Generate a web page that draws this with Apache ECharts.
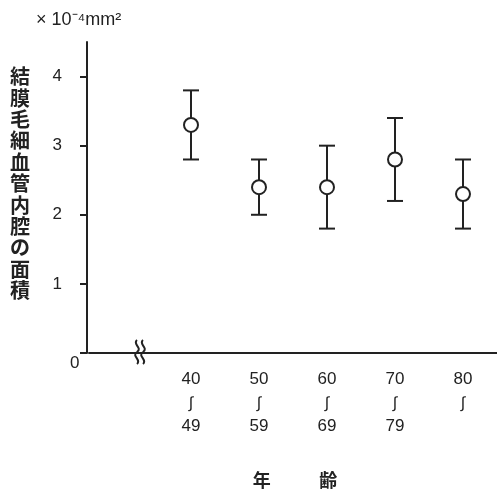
<!DOCTYPE html>
<html><head><meta charset="utf-8">
<script src="https://cdn.jsdelivr.net/npm/echarts@6/dist/echarts.min.js"></script>
<style>html,body{margin:0;padding:0;background:#fff}#c{width:497px;height:496px}</style>
</head><body><div id="c"></div>
<script>
const categories = ['', '40\n∫\n49', '50\n∫\n59', '60\n∫\n69', '70\n∫\n79', '80\n∫\n'];
const means = [3.3, 2.4, 2.4, 2.8, 2.3];
const lows  = [2.8, 2.0, 1.8, 2.2, 1.8];
const highs = [3.8, 2.8, 3.0, 3.4, 2.8];
const yTicks = [0, 1, 2, 3, 4];
const yLabels = [1, 2, 3, 4];
const yTitle = '結膜毛細血管内腔の面積';
const xTitle = '年　　\u2002\u2009齢';

const FONT = '"Liberation Sans", "Noto Sans CJK JP", sans-serif';
const INK = '#222';
const chart = echarts.init(document.getElementById('c'));

const pointData = means.map((v, i) => [categories[i + 1], v]);
const errData = lows.map((l, i) => [i + 1, l, highs[i]]);

function wave(x0, y0) {
  const st = { stroke: INK, lineWidth: 2, fill: null };
  return [
    { type: 'bezierCurve', shape: { x1: x0, y1: y0, cpx1: x0 - 5, cpy1: y0 + 4, cpx2: x0 + 6, cpy2: y0 + 8, x2: x0, y2: y0 + 12 }, style: st, z: 10 },
    { type: 'bezierCurve', shape: { x1: x0, y1: y0 + 12, cpx1: x0 - 6, cpy1: y0 + 16, cpx2: x0 + 5, cpy2: y0 + 20, x2: x0, y2: y0 + 24 }, style: st, z: 10 }
  ];
}

chart.setOption({
  backgroundColor: '#fff',
  animation: false,
  textStyle: { fontFamily: FONT, color: INK },
  grid: { left: 89, right: 0, top: 42, bottom: 143 },
  title: {
    text: '× 10⁻⁴mm²', left: 31, top: 6,
    textStyle: { fontSize: 18, fontWeight: 'normal', color: INK, fontFamily: FONT }
  },
  xAxis: {
    type: 'category', data: categories, boundaryGap: true,
    axisLine: { lineStyle: { color: INK, width: 2 } },
    axisTick: { alignWithLabel: true, length: 5, lineStyle: { color: INK, width: 2 },
      interval: (idx) => idx > 0 },
    axisLabel: {
      color: INK, margin: 15, interval: 0, fontFamily: FONT,
      formatter: (v) => {
        const p = v.split('\n');
        return p.length < 3 ? '' : '{n|' + p[0] + '}\n{w|' + p[1] + '}\n{n|' + p[2] + '}';
      },
      rich: {
        n: { fontSize: 17, lineHeight: 23.5, color: INK, fontFamily: FONT },
        w: { fontSize: 16, lineHeight: 23.5, color: INK, fontFamily: '"Liberation Sans", sans-serif' }
      }
    },
    name: xTitle, nameLocation: 'middle', nameGap: 120,
    nameTextStyle: { fontSize: 18, fontWeight: 'bold', color: INK, fontFamily: FONT, padding: [0, 0, 0, 4] },
    splitLine: { show: false }
  },
  yAxis: {
    type: 'value', min: 0, max: 4.5, offset: 2,
    axisLine: { show: true, lineStyle: { color: INK, width: 2 } },
    axisTick: { show: true, length: 7, lineStyle: { color: INK, width: 2 }, customValues: yTicks },
    axisLabel: { color: INK, fontSize: 17, margin: 25, customValues: yLabels, fontFamily: FONT },
    splitLine: { show: false }
  },
  graphic: [
    { type: 'text', left: 70, top: 355, style: { text: '0', fontSize: 17, fill: INK, fontFamily: FONT } },
    { type: 'text', left: 10, top: 68, style: { text: yTitle.split('').join('\n'), fontSize: 20, fontWeight: 'bold', lineHeight: 21.4, fill: INK, fontFamily: FONT } }
  ].concat(wave(137, 340), wave(143, 340)),
  series: [
    {
      type: 'custom', data: errData, z: 2,
      renderItem: (params, api) => {
        const x = api.value(0);
        const top = api.coord([x, api.value(2)]);
        const bot = api.coord([x, api.value(1)]);
        const hw = 8;
        const st = { stroke: INK, lineWidth: 2 };
        return { type: 'group', children: [
          { type: 'line', shape: { x1: top[0], y1: top[1], x2: bot[0], y2: bot[1] }, style: st },
          { type: 'line', shape: { x1: top[0] - hw, y1: top[1], x2: top[0] + hw, y2: top[1] }, style: st },
          { type: 'line', shape: { x1: bot[0] - hw, y1: bot[1], x2: bot[0] + hw, y2: bot[1] }, style: st }
        ]};
      }
    },
    {
      type: 'scatter', data: pointData, z: 5, symbol: 'circle', symbolSize: 14,
      itemStyle: { color: '#fff', borderColor: INK, borderWidth: 2, opacity: 1 }
    }
  ]
});
</script></body></html>
